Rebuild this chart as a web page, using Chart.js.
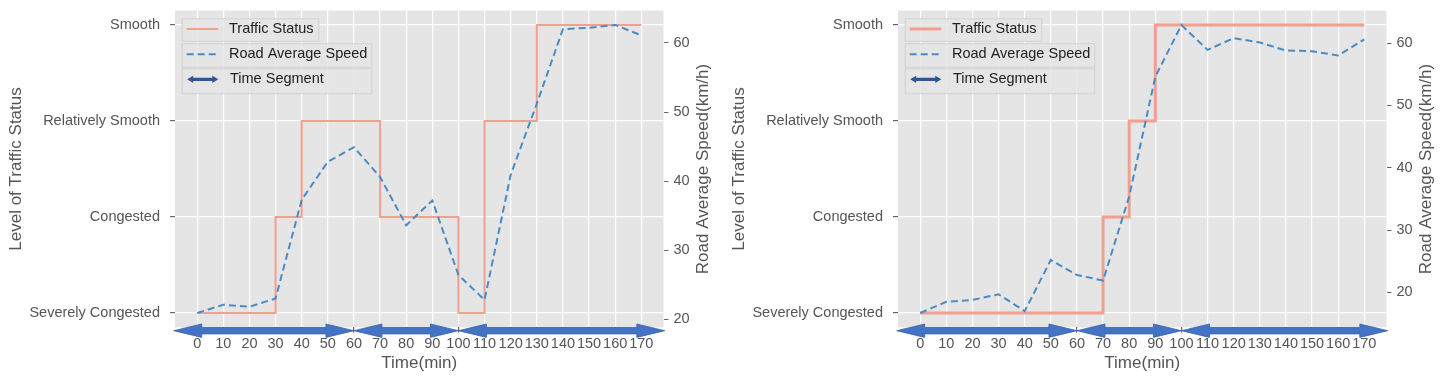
<!DOCTYPE html>
<html>
<head>
<meta charset="utf-8">
<script src="https://cdn.jsdelivr.net/npm/chart.js@4/dist/chart.umd.min.js"></script>
<style>
  body { margin: 0; background: #fff; }
  .wrap { position: relative; width: 1446px; height: 384px; }
  canvas { position: absolute; top: 0; }
  #left { left: 0; }
  #right { left: 723px; }
</style>
</head>
<body>
<div class="wrap">
  <canvas id="left" width="723" height="384"></canvas>
  <canvas id="right" width="723" height="384"></canvas>
</div>
<script>
// time axis, minutes
const minutes = [0,10,20,30,40,50,60,70,80,90,100,110,120,130,140,150,160,170];
const statusNames = ["Severely Congested","Congested","Relatively Smooth","Smooth"];
const speedTicks = [20,30,40,50,60];

// left plot
const statusLeft = [0,0,0,1,2,2,2,1,1,1,0,2,2,3,3,3,3,3];
const speedLeft = [20.9,22.1,21.8,23.0,37.3,42.8,44.9,40.6,33.6,37.2,26.4,22.8,40.9,51.2,62.0,62.2,62.6,61.1];

// right plot
const statusRight = [0,0,0,0,0,0,0,1,2,3,3,3,3,3,3,3,3,3];
const speedRight = [16.7,18.5,18.8,19.7,17.0,25.2,22.8,21.9,35.4,54.6,62.9,58.9,60.8,60.1,58.8,58.7,58.0,60.6];

// time segments (start, end) in minutes, drawn as double arrows under the plot
const segStart = [-9,60,100];
const segEnd = [60,100,179];

const FONT = "'Liberation Sans', Arial, sans-serif";
const RED = "#F0A090";
const BLUE = "#4B8BC5";
const ARROW = "#4472C4";

function doubleArrow(ctx, x1, x2, y, hl, hh, sh) {
  ctx.beginPath();
  ctx.moveTo(x1, y);
  ctx.lineTo(x1 + hl, y - hh);
  ctx.lineTo(x1 + hl, y - sh);
  ctx.lineTo(x2 - hl, y - sh);
  ctx.lineTo(x2 - hl, y - hh);
  ctx.lineTo(x2, y);
  ctx.lineTo(x2 - hl, y + hh);
  ctx.lineTo(x2 - hl, y + sh);
  ctx.lineTo(x1 + hl, y + sh);
  ctx.lineTo(x1 + hl, y + hh);
  ctx.closePath();
}

const bgPlugin = {
  id: "bg",
  beforeDraw(chart) {
    const a = chart.chartArea;
    const ctx = chart.ctx;
    ctx.save();
    ctx.fillStyle = "#E5E5E5";
    ctx.fillRect(a.left, a.top, a.right - a.left, a.bottom - a.top);
    ctx.restore();
  }
};

const overlayPlugin = {
  id: "overlay",
  afterDraw(chart, args, opts) {
    const ctx = chart.ctx;
    const a = chart.chartArea;
    const xs = chart.scales.x;
    ctx.save();

    // time segment arrows
    const ay = a.bottom + 3.3;
    for (let i = 0; i < segStart.length; i++) {
      const x1 = xs.getPixelForValue(segStart[i]);
      const x2 = xs.getPixelForValue(segEnd[i]);
      doubleArrow(ctx, x1, x2, ay, 28, 6.7, 3.2);
      ctx.fillStyle = ARROW;
      ctx.fill();
      ctx.strokeStyle = "#3A62A8";
      ctx.lineWidth = 0.8;
      ctx.stroke();
    }

    // legend boxes
    const lx = a.left + 6.7;
    const boxes = [
      {y: 7.7, w: 137.6, h: 23.4},
      {y: 32.7, w: 190.6, h: 24.4},
      {y: 57.7, w: 190.6, h: 26}
    ];
    boxes.forEach(b => {
      ctx.fillStyle = "rgba(229,229,229,0.85)";
      ctx.fillRect(lx, a.top + b.y, b.w, b.h);
      ctx.strokeStyle = "#D2D2D2";
      ctx.lineWidth = 1;
      ctx.strokeRect(lx + 0.5, a.top + b.y + 0.5, b.w - 1, b.h - 1);
    });
    const sx1 = a.left + 11.7, sx2 = a.left + 43.3, tx = a.left + 54;
    const ty = [a.top + 18.4, a.top + 43.7, a.top + 68.7];

    ctx.strokeStyle = RED;
    ctx.lineWidth = opts.redWidth;
    ctx.beginPath(); ctx.moveTo(sx1, ty[0]); ctx.lineTo(sx2, ty[0]); ctx.stroke();

    ctx.strokeStyle = BLUE;
    ctx.lineWidth = 2;
    ctx.setLineDash([7, 4]);
    ctx.beginPath(); ctx.moveTo(sx1, ty[1]); ctx.lineTo(sx2, ty[1]); ctx.stroke();
    ctx.setLineDash([]);

    doubleArrow(ctx, sx1 + 0.5, sx2, ty[2], 6, 3.6, 1.6);
    ctx.fillStyle = "#2F5597";
    ctx.fill();

    ctx.fillStyle = "#222";
    ctx.font = "14.5px " + FONT;
    ctx.textBaseline = "middle";
    ctx.textAlign = "left";
    ctx.fillText("Traffic Status", tx, ty[0]);
    ctx.fillText("Road Average Speed", tx, ty[1]);
    ctx.fillText("Time Segment", tx + 1, ty[2]);

    // right axis title, reading bottom to top
    ctx.translate(a.right + 40.3, (a.top + a.bottom) / 2);
    ctx.rotate(-Math.PI / 2);
    ctx.fillStyle = "#555";
    ctx.font = "17px " + FONT;
    ctx.textAlign = "center";
    ctx.fillText("Road Average Speed(km/h)", 0, 0);
    ctx.restore();
  }
};

function padRange(arr) {
  const lo = Math.min(...arr), hi = Math.max(...arr);
  const m = (hi - lo) * 0.05;
  return [lo - m, hi + m];
}

function fitY(width) {
  return s => {
    s.width = width;
    s.paddingTop = 0;
    s.paddingBottom = 0;
  };
}

function makeChart(id, status, speed, redWidth) {
  const vr = padRange(speed);
  const tickFont = {family: FONT, size: 14.5};
  new Chart(document.getElementById(id), {
    type: "line",
    data: {
      datasets: [
        {
          label: "Road Average Speed",
          data: minutes.map((m, i) => ({x: m, y: speed[i]})),
          yAxisID: "yV",
          borderColor: BLUE,
          borderWidth: 2,
          borderDash: [7, 4],
          pointRadius: 0,
          fill: false,
          order: 0
        },
        {
          label: "Traffic Status",
          data: minutes.map((m, i) => ({x: m, y: status[i]})),
          yAxisID: "yS",
          borderColor: RED,
          borderWidth: redWidth,
          stepped: "before",
          pointRadius: 0,
          fill: false,
          order: 1
        }
      ]
    },
    options: {
      responsive: false,
      animation: false,
      layout: {padding: {top: 10.6, left: 0, right: 0, bottom: 0}},
      plugins: {
        legend: {display: false},
        tooltip: {enabled: false},
        overlay: {redWidth: redWidth}
      },
      scales: {
        x: {
          type: "linear",
          min: -8.5,
          max: 178.5,
          afterBuildTicks: s => { s.ticks = minutes.map(v => ({value: v})); },
          afterFit: s => { s.height = 56.6; s.paddingLeft = 0; s.paddingRight = 0; },
          ticks: {color: "#555", font: tickFont, padding: 3, autoSkip: false, maxRotation: 0},
          grid: {color: "#fff", lineWidth: 1.2, tickColor: "#666", tickLength: 5},
          border: {display: false},
          title: {display: true, text: "Time(min)", color: "#555", font: {family: FONT, size: 17}, padding: {top: 0, bottom: 10.5}}
        },
        yS: {
          type: "linear",
          position: "left",
          min: -0.15,
          max: 3.15,
          afterBuildTicks: s => { s.ticks = statusNames.map((n, i) => ({value: i})); },
          afterFit: fitY(175),
          ticks: {color: "#555", font: tickFont, padding: 10, callback: v => statusNames[v]},
          grid: {color: "#fff", lineWidth: 1.2, tickColor: "#666", tickLength: 5},
          border: {display: false},
          title: {display: true, text: "Level of Traffic Status", color: "#555", font: {family: FONT, size: 17}, padding: {top: 6.5, bottom: 0}}
        },
        yV: {
          type: "linear",
          position: "right",
          min: vr[0],
          max: vr[1],
          afterBuildTicks: s => { s.ticks = speedTicks.map(v => ({value: v})); },
          afterFit: fitY(59.5),
          ticks: {color: "#555", font: tickFont, padding: 5},
          grid: {drawOnChartArea: false, color: "#fff", tickColor: "#666", tickLength: 5},
          border: {display: false}
        }
      }
    },
    plugins: [bgPlugin, overlayPlugin]
  });
}

makeChart("left", statusLeft, speedLeft, 2);
makeChart("right", statusRight, speedRight, 3);
</script>
</body>
</html>
